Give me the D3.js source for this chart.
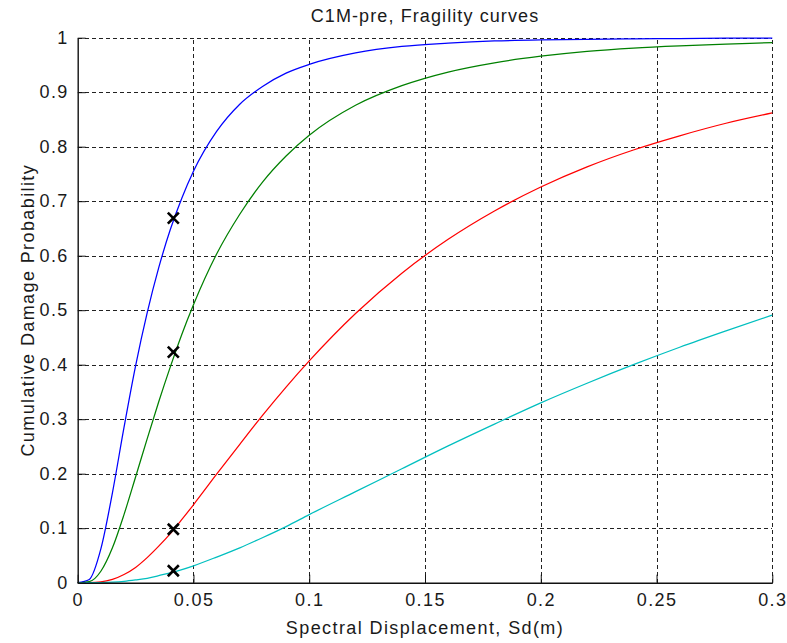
<!DOCTYPE html>
<html>
<head>
<meta charset="utf-8">
<script src="https://d3js.org/d3.v7.min.js"></script>
<style>
  html, body { margin: 0; padding: 0; background: #fff; }
  svg { display: block; }
  text { font-family: "Liberation Sans", Arial, Helvetica, sans-serif; fill: #1a1a1a; }
</style>
</head>
<body>
<svg id="chart" width="787" height="643"></svg>
<script>
// ---- data ----
const title = "C1M-pre, Fragility curves";
const xLabel = "Spectral Displacement, Sd(m)";
const yLabel = "Cumulative Damage Probability";

const sd = [0, 0.005, 0.01, 0.015, 0.02, 0.025, 0.03, 0.035, 0.04, 0.045, 0.05,
            0.06, 0.07, 0.08, 0.09, 0.1, 0.12, 0.14, 0.16, 0.18, 0.2,
            0.22, 0.24, 0.26, 0.28, 0.3];

const slight = [0, 0.006, 0.062, 0.165, 0.285, 0.398, 0.495, 0.578, 0.648, 0.706, 0.755,
                0.828, 0.878, 0.911, 0.935, 0.951, 0.972, 0.984, 0.990, 0.994, 0.996,
                0.997, 0.998, 0.9985, 0.999, 0.9992];
const moderate = [0, 0.002, 0.021, 0.064, 0.125, 0.194, 0.264, 0.332, 0.396, 0.456, 0.510,
                  0.603, 0.676, 0.736, 0.783, 0.821, 0.876, 0.912, 0.937, 0.954, 0.966,
                  0.975, 0.981, 0.985, 0.988, 0.991];
const extensive = [0, 0.0001, 0.0013, 0.006, 0.015, 0.028, 0.046, 0.067, 0.090, 0.116, 0.143,
                   0.199, 0.254, 0.308, 0.359, 0.407, 0.494, 0.568, 0.630, 0.682, 0.726,
                   0.763, 0.794, 0.820, 0.843, 0.862];
const complete = [0, 0, 0.0002, 0.001, 0.0025, 0.005, 0.008, 0.013, 0.018, 0.024, 0.031,
                  0.047, 0.064, 0.083, 0.103, 0.125, 0.167, 0.209, 0.251, 0.291, 0.330,
                  0.366, 0.400, 0.432, 0.462, 0.491];

const seriesNames = ["slight", "moderate", "extensive", "complete"];
const seriesColors = ["#0000ff", "#008000", "#ff0000", "#00bfbf"];

const markerSd = [0.0413, 0.0413, 0.0413, 0.0413];
const markerP = [0.669, 0.423, 0.098, 0.022];

const xTicks = [0, 0.05, 0.1, 0.15, 0.2, 0.25, 0.3];
const xTickLabels = ["0", "0.05", "0.1", "0.15", "0.2", "0.25", "0.3"];
const yTicks = [0, 0.1, 0.2, 0.3, 0.4, 0.5, 0.6, 0.7, 0.8, 0.9, 1];
const yTickLabels = ["0", "0.1", "0.2", "0.3", "0.4", "0.5", "0.6", "0.7", "0.8", "0.9", "1"];

// ---- layout ----
const svg = d3.select("#chart");
const mLeft = 77.7, mRight = 772.3, mTop = 37.7, mBottom = 582.7;
const fontSize = 18, letterSp = "1.4px";

const x = d3.scaleLinear().domain([0, 0.3]).range([mLeft, mRight]);
const y = d3.scaleLinear().domain([0, 1]).range([mBottom, mTop]);

svg.append("rect").attr("width", 787).attr("height", 643).attr("fill", "#fff");

// grid
const grid = svg.append("g").attr("stroke", "#222").attr("stroke-width", 1)
  .attr("stroke-dasharray", "4,3").attr("shape-rendering", "crispEdges");
grid.selectAll("line.vx").data(xTicks.slice(1)).join("line")
  .attr("x1", d => Math.round(x(d)) + 0.5).attr("x2", d => Math.round(x(d)) + 0.5)
  .attr("y1", mBottom).attr("y2", mTop);
grid.selectAll("line.hy").data(yTicks.slice(1)).join("line")
  .attr("y1", d => Math.round(y(d)) + 0.5).attr("y2", d => Math.round(y(d)) + 0.5)
  .attr("x1", mLeft).attr("x2", mRight);

// curves
const allSeries = [slight, moderate, extensive, complete];
const line = d3.line()
  .x((d, i) => x(sd[i]))
  .y(d => y(d))
  .curve(d3.curveMonotoneX);

svg.append("g").selectAll("path").data(allSeries).join("path")
  .attr("d", d => line(d))
  .attr("fill", "none")
  .attr("stroke", (d, i) => seriesColors[i])
  .attr("stroke-width", 1.25);

// axes
const xAxis = d3.axisBottom(x).tickValues(xTicks)
  .tickFormat((d, i) => xTickLabels[i]).tickSizeInner(-8).tickSizeOuter(0).tickPadding(11);
const gx = svg.append("g").attr("transform", `translate(0,${mBottom})`).call(xAxis);
gx.select(".domain").attr("stroke", "#111").attr("stroke-width", 1.4);
gx.selectAll(".tick line").attr("stroke", "#111");
gx.selectAll("text").attr("font-size", fontSize).attr("fill", "#1a1a1a")
  .style("font-family", '"Liberation Sans", Arial, sans-serif')
  .style("letter-spacing", letterSp);

const yAxis = d3.axisLeft(y).tickValues(yTicks)
  .tickFormat((d, i) => yTickLabels[i]).tickSizeInner(-8).tickSizeOuter(0).tickPadding(9);
const gy = svg.append("g").attr("transform", `translate(${mLeft},0)`).call(yAxis);
gy.select(".domain").attr("stroke", "#111").attr("stroke-width", 1.4);
gy.selectAll(".tick line").attr("stroke", "#111");
gy.selectAll("text").attr("font-size", fontSize).attr("fill", "#1a1a1a")
  .style("font-family", '"Liberation Sans", Arial, sans-serif')
  .style("letter-spacing", letterSp);

// markers
svg.append("g").selectAll("path").data(markerSd).join("path")
  .attr("d", (d, i) => {
    const cx = x(d), cy = y(markerP[i]), r = 5.5;
    return `M${cx - r},${cy - r}L${cx + r},${cy + r}M${cx + r},${cy - r}L${cx - r},${cy + r}`;
  })
  .attr("stroke", "#000").attr("stroke-width", 2.6).attr("fill", "none");

// labels
svg.append("text").attr("x", (mLeft + mRight) / 2).attr("y", 22)
  .attr("text-anchor", "middle").attr("font-size", fontSize)
  .style("letter-spacing", "1.1px").text(title);
svg.append("text").attr("x", (mLeft + mRight) / 2).attr("y", 634)
  .attr("text-anchor", "middle").attr("font-size", fontSize)
  .style("letter-spacing", letterSp).text(xLabel);
svg.append("text").attr("transform", `translate(34,${(mTop + mBottom) / 2}) rotate(-90)`)
  .attr("text-anchor", "middle").attr("font-size", fontSize)
  .style("letter-spacing", letterSp).text(yLabel);
</script>
</body>
</html>
